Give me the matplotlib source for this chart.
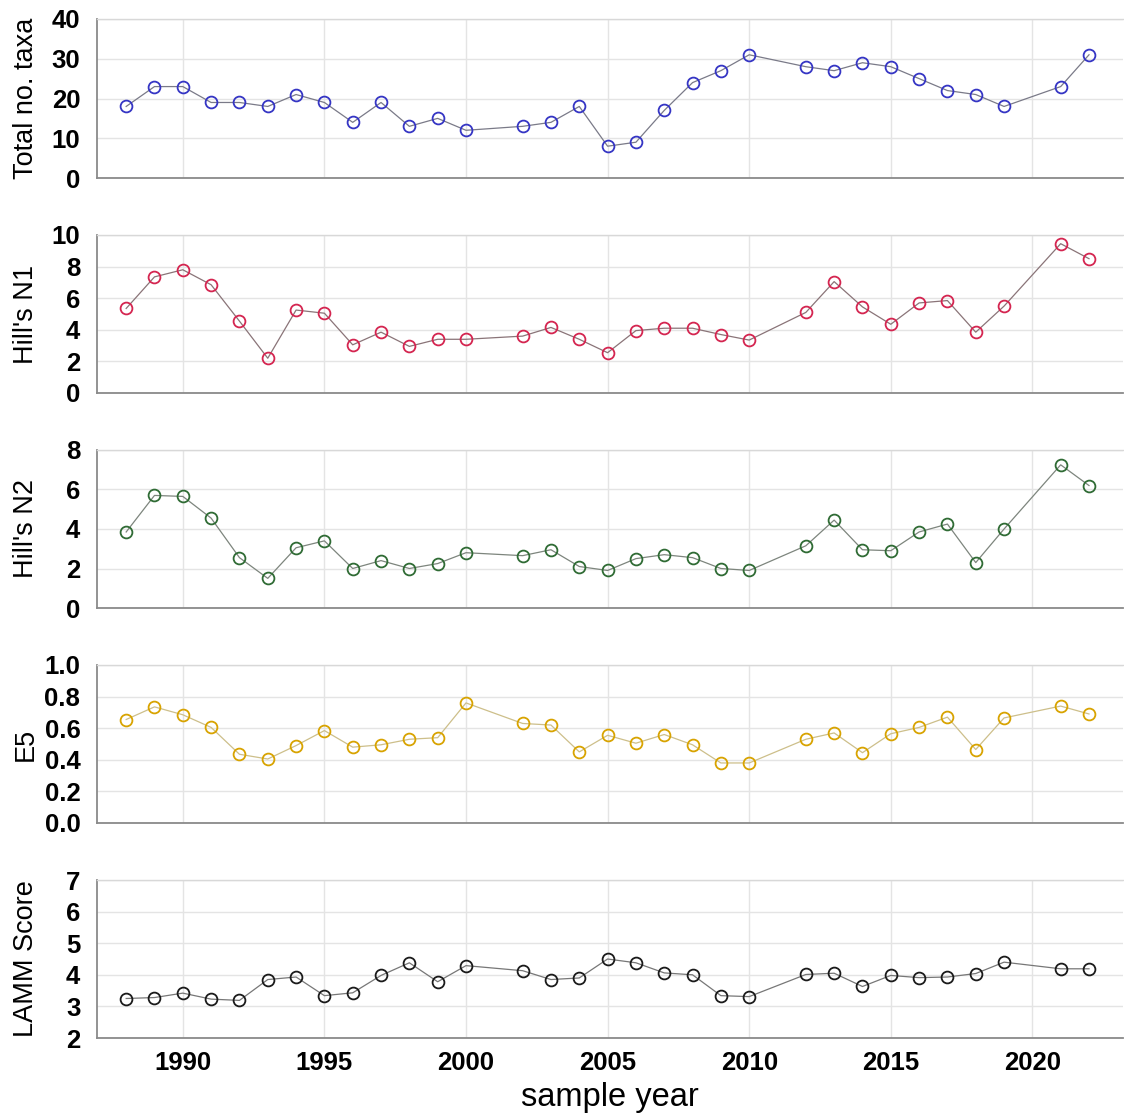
import matplotlib
matplotlib.use("Agg")
import matplotlib.pyplot as plt

years = [1988, 1989, 1990, 1991, 1992, 1993, 1994, 1995, 1996, 1997, 1998, 1999, 2000,
         2002, 2003, 2004, 2005, 2006, 2007, 2008, 2009, 2010,
         2012, 2013, 2014, 2015, 2016, 2017, 2018, 2019, 2021, 2022]

total_taxa = [18, 23, 23, 19, 19, 18, 21, 19, 14, 19, 13, 15, 12,
              13, 14, 18, 8, 9, 17, 24, 27, 31,
              28, 27, 29, 28, 25, 22, 21, 18, 23, 31]

hills_n1 = [5.35, 7.35, 7.8, 6.85, 4.55, 2.2, 5.25, 5.05, 3.05, 3.85, 2.95, 3.4, 3.4,
            3.6, 4.15, 3.4, 2.55, 3.95, 4.1, 4.1, 3.7, 3.35,
            5.1, 7.05, 5.45, 4.35, 5.7, 5.85, 3.85, 5.5, 9.45, 8.5]

hills_n2 = [3.85, 5.7, 5.65, 4.55, 2.55, 1.5, 3.05, 3.4, 2.0, 2.4, 2.0, 2.25, 2.8,
            2.65, 2.95, 2.1, 1.9, 2.5, 2.7, 2.55, 2.0, 1.9,
            3.15, 4.45, 2.95, 2.9, 3.85, 4.25, 2.3, 4.0, 7.25, 6.2]

e5 = [0.655, 0.735, 0.685, 0.605, 0.435, 0.405, 0.49, 0.585, 0.48, 0.495, 0.53, 0.54, 0.76,
      0.63, 0.62, 0.45, 0.555, 0.505, 0.56, 0.495, 0.38, 0.38,
      0.53, 0.57, 0.445, 0.565, 0.605, 0.67, 0.465, 0.665, 0.74, 0.69]

lamm = [3.25, 3.28, 3.42, 3.23, 3.19, 3.85, 3.93, 3.34, 3.43, 3.98, 4.38, 3.78, 4.29,
        4.13, 3.85, 3.9, 4.5, 4.38, 4.06, 4.0, 3.34, 3.31,
        4.01, 4.05, 3.63, 3.98, 3.91, 3.93, 4.04, 4.4, 4.19, 4.19]

panels = [
    ("Total no. taxa", total_taxa, "#3535c4", "#7a7a88", (0, 40), [0, 10, 20, 30, 40], "{:.0f}"),
    ("Hill's N1", hills_n1, "#d42550", "#8a7478", (0, 10), [0, 2, 4, 6, 8, 10], "{:.0f}"),
    ("Hill's N2", hills_n2, "#2f6b34", "#7d857d", (0, 8), [0, 2, 4, 6, 8], "{:.0f}"),
    ("E5", e5, "#d8a300", "#cdbf8a", (0, 1), [0.0, 0.2, 0.4, 0.6, 0.8, 1.0], "{:.1f}"),
    ("LAMM Score", lamm, "#1a1a1a", "#777777", (2, 7), [2, 3, 4, 5, 6, 7], "{:.0f}"),
]
xticks = [1990, 1995, 2000, 2005, 2010, 2015, 2020]

W, H = 1124, 1115
fig = plt.figure(figsize=(W / 100, H / 100), dpi=100)
plt.rcParams['font.family'] = ['Liberation Sans', 'DejaVu Sans']

tops = [19, 235, 450, 665, 880]
bots = [178, 393, 608, 823, 1038]
left_px, right_px = 97, 1123

for i, (label, vals, mcol, lcol, ylim, yt, fmt) in enumerate(panels):
    b = 1 - bots[i] / H
    h = (bots[i] - tops[i]) / H
    ax = fig.add_axes([left_px / W, b, (right_px - left_px) / W, h])
    ax.plot(years, vals, color=lcol, lw=0.9, zorder=2)
    ax.plot(years, vals, linestyle='none', marker='o', markersize=8.5,
            markerfacecolor='none', markeredgecolor=mcol, markeredgewidth=1.3, zorder=3)
    ax.set_xlim(1986.97, 2023.2)
    ax.set_ylim(*ylim)
    ax.set_yticks(yt)
    ax.set_yticklabels([fmt.format(v) for v in yt], fontsize=18.5, fontweight='bold')
    ax.set_xticks(xticks)
    ax.grid(True, color='#e4e4e4', lw=1.0, zorder=0)
    ax.set_axisbelow(True)
    ax.tick_params(length=0, pad=12)
    ax.spines['right'].set_visible(False)
    ax.spines['top'].set_color('#d8d8d8')
    ax.spines['top'].set_linewidth(1.0)
    ax.spines['left'].set_color('#8a8a8a')
    ax.spines['bottom'].set_color('#8a8a8a')
    ax.spines['left'].set_linewidth(1.3)
    ax.spines['bottom'].set_linewidth(1.3)
    ax.set_ylabel(label, fontsize=19.5)
    ax.yaxis.set_label_coords(-0.057, 0.5)
    if i < 4:
        ax.set_xticklabels([])
    else:
        ax.set_xticklabels([str(x) for x in xticks], fontsize=18.5, fontweight='bold')
        ax.tick_params(axis='x', pad=9)

fig.text(0.5425, 1 - 1106 / H, "sample year", ha='center', va='baseline', fontsize=23.5)

fig.savefig("out.png", dpi=100, facecolor='white')
